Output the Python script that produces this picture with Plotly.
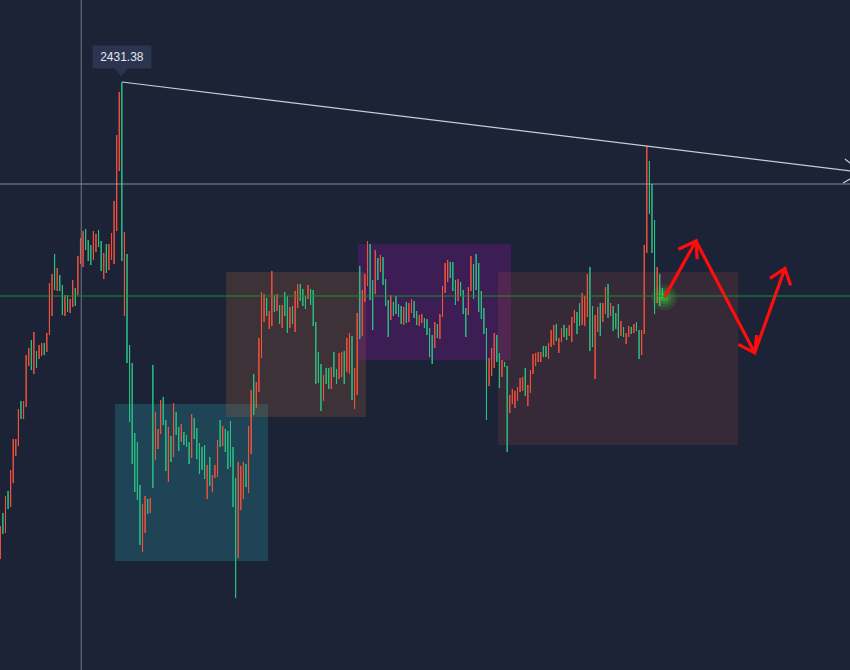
import plotly.graph_objects as go

# ---- candle data (price) ----
opens = [2312.25, 2323.75, 2318.75, 2329.25, 2325.25, 2331.25, 2338, 2340.5, 2351.75, 2347.25,
         2350.25, 2360.5, 2367, 2358.5, 2364.25, 2362.25, 2363, 2366.25, 2364, 2368.25,
         2373, 2388.5, 2379.25, 2383.25, 2380.75, 2373, 2378.25, 2373.75, 2375.25, 2380,
         2378.25, 2386, 2385.25, 2394.75, 2392, 2390.75, 2387, 2389, 2394.5, 2391.75,
         2382.25, 2391, 2384.5, 2387, 2386, 2394.25, 2409.25, 2431.38, 2373, 2388.5,
         2365.75, 2361.25, 2343.75, 2341.5, 2330.75, 2314, 2318.75, 2327.25, 2323.75, 2360.75,
         2337, 2339.75, 2343.5, 2352.75, 2347, 2331.5, 2343, 2337.75, 2349, 2345.25,
         2341.5, 2344, 2343.25, 2341.5, 2337.5, 2347.5, 2345, 2341.25, 2340.25, 2340.75,
         2327.25, 2337.75, 2329, 2332.5, 2332.75, 2347, 2340.5, 2344.75, 2344.25, 2346.75,
         2340.25, 2332.5, 2312.5, 2324.5, 2327.25, 2336, 2328.75, 2338.5, 2358.5, 2350,
         2354, 2362.5, 2371.5, 2377.5, 2369.75, 2370.5, 2378.25, 2374.25, 2375.75, 2370,
         2379, 2378, 2370, 2375.5, 2369, 2375, 2381, 2379.75, 2378, 2377.25,
         2379.75, 2379.5, 2371.5, 2364, 2361, 2351.75, 2360, 2360, 2354.75, 2364,
         2359.75, 2357.25, 2357.75, 2364.25, 2359, 2358.5, 2368, 2349.75, 2353.25, 2385.5,
         2368, 2376.5, 2380.5, 2391, 2382, 2378.5, 2387.5, 2384, 2387.75, 2382.25,
         2377, 2372, 2376.5, 2378, 2376, 2375.5, 2370.75, 2376.5, 2371.5, 2373.75,
         2376.75, 2374.25, 2370.5, 2371.25, 2372.5, 2372.25, 2370, 2368.25, 2365, 2371,
         2367.25, 2372.75, 2378.75, 2381.5, 2386.5, 2386.5, 2382, 2376.75, 2381.5, 2379.5,
         2375, 2373.25, 2379.25, 2386, 2388.5, 2386.25, 2379.25, 2375, 2370, 2355.5,
         2358, 2360, 2368.25, 2363.75, 2357.75, 2361.5, 2360.5, 2348.75, 2351, 2350,
         2351.75, 2354, 2354.25, 2360, 2350.5, 2353.75, 2358.5, 2360.5, 2361.5, 2361.5,
         2365.5, 2365.5, 2362.25, 2365.25, 2365.75, 2371, 2363.75, 2366.5, 2370.75, 2370,
         2368, 2366.5, 2371.25, 2374, 2376.25, 2370.75, 2370.5, 2372.75, 2385.25, 2375.5,
         2357.25, 2369, 2376.25, 2371.5, 2373.5, 2381, 2373, 2375.5, 2373.75, 2376,
         2368, 2370.25, 2366, 2367.75, 2370.25, 2368.75, 2371.5, 2369.5, 2363.25, 2368.5,
         2388.75, 2411.75, 2406, 2397, 2376.25, 2383.5, 2380]
closes = [2320.5, 2318.5, 2328, 2324.75, 2334.5, 2342.25, 2342.25, 2349.75, 2347.25, 2351.75,
          2363.25, 2365, 2359.5, 2369, 2360, 2365.75, 2366.25, 2363.25, 2368.75, 2381.25,
          2383.5, 2379.5, 2385, 2379.25, 2373.25, 2378.25, 2374, 2377.25, 2382, 2375.5,
          2388, 2392.5, 2394.25, 2389.5, 2386.75, 2385.75, 2394.25, 2393.5, 2390.25, 2384.25,
          2388.75, 2383.75, 2391, 2393.75, 2401.75, 2418.25, 2429, 2386.75, 2394, 2361.25,
          2346.5, 2336, 2329, 2327, 2315.75, 2326, 2328, 2323.5, 2327.5, 2330,
          2349, 2344.75, 2352, 2345.75, 2334.25, 2345.25, 2336.5, 2351.25, 2343.25, 2339.25,
          2346, 2340.75, 2340.25, 2336, 2348.5, 2342.25, 2337.25, 2333.5, 2334.5, 2332.25,
          2335.75, 2330.5, 2333.25, 2335.75, 2342, 2340.25, 2345.5, 2339, 2334.75, 2335.25,
          2325.25, 2302.5, 2336.5, 2335.5, 2336.5, 2330.25, 2345.5, 2354.5, 2348.25, 2356.5,
          2367.5, 2379, 2378.5, 2373, 2374.25, 2384.25, 2374, 2378.5, 2371, 2375.75,
          2373, 2368.75, 2375.25, 2371, 2379.25, 2381, 2376.75, 2375.5, 2374.75, 2380.75,
          2375.75, 2370.5, 2356, 2356.25, 2349.25, 2358.25, 2356, 2354.75, 2360.25, 2357.75,
          2356, 2363.75, 2364, 2356, 2367.5, 2368.75, 2352, 2360, 2373.75, 2367.25,
          2379.5, 2383.5, 2391.75, 2377, 2369.5, 2389.5, 2382, 2388.25, 2380.75, 2375.5,
          2367.75, 2378.25, 2373, 2373.5, 2372.75, 2371, 2375.25, 2371.25, 2376.25, 2377.25,
          2372.5, 2370.75, 2373.25, 2373.5, 2370, 2368.25, 2362.75, 2361, 2371.5, 2367.5,
          2373.5, 2380.5, 2386.25, 2387, 2382.5, 2379.25, 2375.75, 2382.25, 2378, 2373.5,
          2367.75, 2380.25, 2388, 2377.25, 2379.5, 2374, 2372.25, 2368.5, 2347, 2362.5,
          2365, 2368.75, 2361.5, 2355, 2362, 2360.25, 2339, 2353.25, 2354.75, 2354.25,
          2355.25, 2357.5, 2357.75, 2353, 2355.75, 2359.5, 2363.5, 2363.75, 2364, 2364,
          2362.75, 2362.75, 2366.25, 2369.5, 2370.75, 2366.75, 2367.5, 2370, 2367.75, 2367,
          2370.75, 2372.75, 2374.5, 2368.5, 2370.5, 2378.75, 2378, 2383.5, 2364.25, 2365.25,
          2373.25, 2375.25, 2368, 2376.25, 2380.25, 2372.5, 2376.25, 2369.25, 2369.75, 2367.5,
          2371.75, 2367.75, 2368.75, 2370.5, 2368.5, 2371, 2369.25, 2362.25, 2369.5, 2390.75,
          2415.5, 2398.5, 2388.75, 2373.5, 2385.25, 2375.5, 2377.5]
bars = list(range(len(opens)))
highs = [max(o, c) for o, c in zip(opens, closes)]
lows = [min(o, c) for o, c in zip(opens, closes)]

# ---- drawing objects (bar index, price) ----
peak_label = "2431.38"
crosshair_x = 31.3
crosshair_price = 2406
support_price = 2378
trend_x = [47, 333.1]
trend_y = [2431.5, 2408.95]
trend_head_x = [326.6, 333.1, 325.9]
trend_head_y = [2412.25, 2408.95, 2406.25]
zones = [  # x0, x1, y0, y1, color
    (44.35, 103.5, 2311.75, 2351, "rgba(40,175,190,0.24)"),
    (87.3, 141.4, 2347.75, 2384, "rgba(190,110,60,0.2)"),
    (138.3, 197.5, 2362, 2391, "rgba(155,20,170,0.26)"),
    (192.5, 285.3, 2340.75, 2384, "rgba(175,75,70,0.19)"),
]
path_x = [256.8, 269.0, 291.7, 303.4]
path_y = [2377.6, 2391.75, 2363.8, 2384.9]
heads_x = [262.2, 269.0, 269.5, None, 285.4, 291.7, 292.5, None, 297.6, 303.4, 305.6]
heads_y = [2389.7, 2391.75, 2387.2, None, 2365.9, 2363.8, 2368.25, None, 2382.4, 2384.9, 2380.6]

RED = "#f2523c"
GREEN = "#29c283"
BG = "#1c2336"

fig = go.Figure()
fig.add_trace(go.Candlestick(
    x=bars, open=opens, high=highs, low=lows, close=closes,
    increasing=dict(line=dict(color=RED, width=1), fillcolor=RED),
    decreasing=dict(line=dict(color=GREEN, width=1), fillcolor=GREEN),
    whiskerwidth=0, hoverinfo="skip", showlegend=False))

# trend line with open arrow head
fig.add_trace(go.Scatter(x=trend_x, y=trend_y, mode="lines",
                         line=dict(color="#c9ccd3", width=1.2), hoverinfo="skip"))
fig.add_trace(go.Scatter(x=trend_head_x, y=trend_head_y, mode="lines",
                         line=dict(color="#c9ccd3", width=1.2), hoverinfo="skip"))

# glow
for s, op in [(26, 0.10), (20, 0.14), (14, 0.22), (8, 0.4)]:
    fig.add_trace(go.Scatter(x=[path_x[0]], y=[path_y[0]], mode="markers",
                             marker=dict(size=s, color="#39e03c", opacity=op, line=dict(width=0)),
                             hoverinfo="skip"))

# red projected path
fig.add_trace(go.Scatter(x=path_x, y=path_y, mode="lines",
                         line=dict(color="#ff0d0d", width=3.2), hoverinfo="skip"))
fig.add_trace(go.Scatter(x=heads_x, y=heads_y, mode="lines",
                         line=dict(color="#ff0d0d", width=3.2), hoverinfo="skip", connectgaps=False))

shapes = []
for x0, x1, y0, y1, col in zones:
    shapes.append(dict(type="rect", xref="x", yref="y", x0=x0, x1=x1, y0=y0, y1=y1,
                       fillcolor=col, line=dict(width=0), layer="below"))
shapes.append(dict(type="line", xref="paper", yref="y", x0=0, x1=1,
                   y0=crosshair_price, y1=crosshair_price,
                   line=dict(color="rgba(170,176,190,0.75)", width=1)))
shapes.append(dict(type="line", xref="x", yref="paper", x0=crosshair_x, x1=crosshair_x,
                   y0=0, y1=1, line=dict(color="rgba(150,156,172,0.7)", width=1)))
shapes.append(dict(type="line", xref="paper", yref="y", x0=0, x1=1,
                   y0=support_price, y1=support_price,
                   line=dict(color="#1f8f2e", width=1)))
# label pointer
shapes.append(dict(type="path", xref="x", yref="y",
                   path="M 43.9 2435.1 L 49.6 2435.1 L 46.8 2432.9 Z",
                   fillcolor="#2b3550", line=dict(width=0)))

fig.add_annotation(x=46.95, y=2437.75, xref="x", yref="y", text=peak_label, showarrow=False,
                   font=dict(family="Liberation Sans, Arial", size=12, color="#e3e6ec"),
                   bgcolor="#2b3550", width=52, height=16, borderpad=3)

fig.update_layout(
    width=850, height=670, margin=dict(l=0, r=0, t=0, b=0),
    paper_bgcolor=BG, plot_bgcolor=BG, showlegend=False, hovermode=False,
    boxgap=0.95, shapes=shapes,
    xaxis=dict(range=[-0.116, 328.57], visible=False, showgrid=False, zeroline=False,
               rangeslider=dict(visible=False), fixedrange=True),
    yaxis=dict(range=[2284.5, 2452], visible=False, showgrid=False, zeroline=False,
               fixedrange=True),
)

fig.write_html("out.html", config={"displayModeBar": False, "staticPlot": True},
               post_script="document.body.style.margin='0';document.body.style.background='#1c2336';")
